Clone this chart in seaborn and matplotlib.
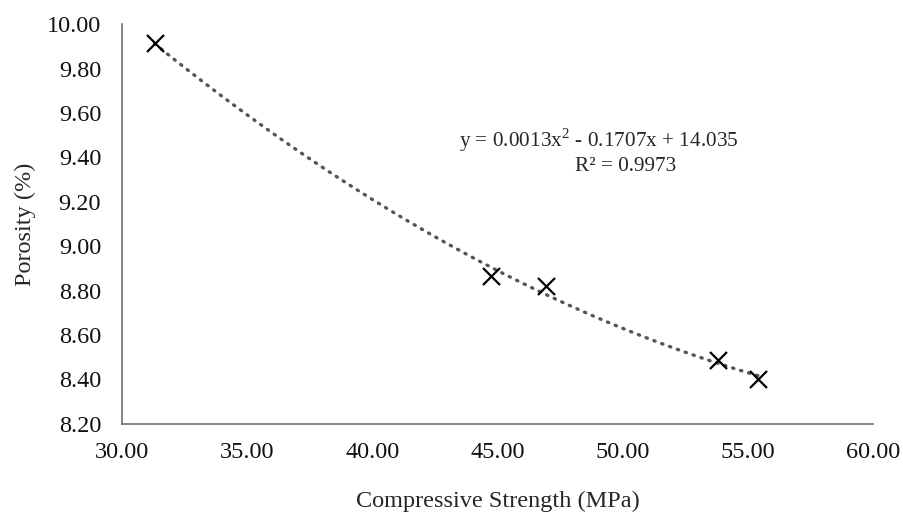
import numpy as np
import pandas as pd
import matplotlib
matplotlib.use('Agg')
import matplotlib.pyplot as plt
import seaborn as sns

# данные
strength = [31.3, 44.75, 46.95, 53.8, 55.4]
porosity = [9.915, 8.865, 8.82, 8.487, 8.40]

x_ticks = [30, 35, 40, 45, 50, 55, 60]
y_ticks = [8.2, 8.4, 8.6, 8.8, 9.0, 9.2, 9.4, 9.6, 9.8, 10.0]

eq_text = 'y = 0.0013x$^2$ - 0.1707x + 14.035'
r2_text = 'R² = 0.9973'

sns.set_style('white')
plt.rcParams['font.family'] = ['Liberation Serif', 'DejaVu Serif']
plt.rcParams['mathtext.fontset'] = 'custom'
plt.rcParams['mathtext.rm'] = 'Liberation Serif'

df = pd.DataFrame({'x': strength, 'y': porosity})

# полиномиальная линия тренда 2-го порядка
coef = np.polyfit(strength, porosity, 2)
xs = np.linspace(min(strength), max(strength), 200)
trend = pd.DataFrame({'x': xs, 'y': np.polyval(coef, xs)})

fig = plt.figure(figsize=(9.04, 5.15), dpi=100)
ax = fig.add_axes([0.135, 0.177, 0.831, 0.776])

sns.lineplot(data=trend, x='x', y='y', ax=ax, color='#555555',
             linewidth=2.4, linestyle=(0, (0.4, 2.1)), dash_capstyle='round')
sns.scatterplot(data=df, x='x', y='y', ax=ax, marker='x', s=150,
                color='black', linewidth=1.6, zorder=3)

ax.set_xlim(30, 60)
ax.set_ylim(8.2, 10.0)
ax.set_xticks(x_ticks)
ax.set_yticks(y_ticks)
ax.set_xticklabels([f'{v:.2f}' for v in x_ticks])
ax.set_yticklabels([f'{v:.2f}' for v in y_ticks])
ax.tick_params(length=0, labelsize=17.5, colors='#111111')
ax.tick_params(axis='x', pad=13)
ax.tick_params(axis='y', pad=15)

for s in ['top', 'right']:
    ax.spines[s].set_visible(False)
for s in ['left', 'bottom']:
    ax.spines[s].set_color('#6e6e6e')
    ax.spines[s].set_linewidth(1.2)

ax.set_xlabel('Compressive Strength (MPa)', fontsize=17.5, labelpad=20)
ax.set_ylabel('Porosity (%)', fontsize=17.5, labelpad=8)

ax.text(0.634, 0.71, eq_text, transform=ax.transAxes, ha='center',
        va='center', fontsize=15.3)
ax.text(0.671, 0.643, r2_text, transform=ax.transAxes, ha='center',
        va='center', fontsize=15.3)

plt.savefig('out.png', dpi=100)
